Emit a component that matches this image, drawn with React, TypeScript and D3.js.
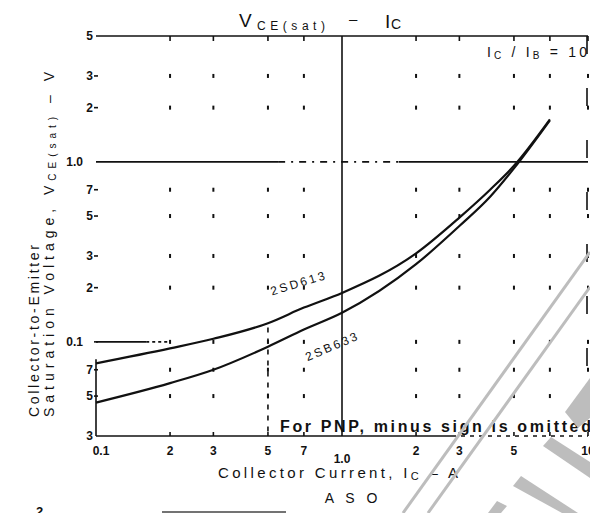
import React from 'react';
import * as d3 from 'd3';

// collector current, A
const currentA = [0.1, 0.2, 0.3, 0.5, 0.7, 1, 2, 3, 4, 5, 7];
// VCE(sat), V
const vce2SD613 = [0.076, 0.092, 0.104, 0.127, 0.155, 0.187, 0.31, 0.49, 0.7, 0.95, 1.72];
const vce2SB633 = [0.046, 0.059, 0.07, 0.094, 0.117, 0.145, 0.27, 0.44, 0.64, 0.92, 1.7];

const xTickValues = [0.1, 0.2, 0.3, 0.5, 0.7, 1, 2, 3, 5, 10];
const xTickLabels = ['0.1', '2', '3', '5', '7', '1.0', '2', '3', '5', '10'];
const yTickValues = [5, 3, 2, 1, 0.7, 0.5, 0.3, 0.2, 0.1, 0.07, 0.05, 0.03];
const yTickLabels = ['5', '3', '2', '1.0', '7', '5', '3', '2', '0.1', '7', '5', '3'];

const xMinor = [0.2, 0.3, 0.5, 0.7, 2, 3, 5, 7, 10];
const yMinor = [3, 2, 0.7, 0.5, 0.3, 0.2, 0.1, 0.07, 0.05];

const W = 590;
const H = 513;
const font = '"Liberation Sans", Arial, sans-serif';
const ink = '#111';
const wm = '#bdbdbd';

export default function App() {
  const x = d3.scaleLog().domain([0.1, 10]).range([96, 588]);
  const y = d3.scaleLog().domain([0.03, 5]).range([436, 36]);

  const line = d3.line<[number, number]>()
    .x(d => x(d[0]))
    .y(d => y(d[1]))
    .curve(d3.curveMonotoneX);

  const upper = line(currentA.map((c, i) => [c, vce2SD613[i]]));
  const lower = line(currentA.map((c, i) => [c, vce2SB633[i]]));

  const ax = { stroke: ink, strokeWidth: 1.6, fill: 'none' };

  return (
    <svg width={W} height={H} style={{ position: 'absolute', left: 0, top: 0, background: '#fff' }}
      fontFamily={font}>
      <rect width={W} height={H} fill="#fff" />

      {/* title */}
      <text x={239} y={27} fontSize={19} fill={ink}>V</text>
      <text x={257} y={30} fontSize={12} fill={ink} textLength={68} lengthAdjust="spacing">CE(sat)</text>
      <text x={349} y={24} fontSize={15} fill={ink}>–</text>
      <text x={385} y={28} fontSize={19} fill={ink}>I</text>
      <text x={391} y={29} fontSize={14} fill={ink}>C</text>

      {/* frame and major lines */}
      <line x1={x(0.1)} x2={x(10)} y1={y(5)} y2={y(5)} {...ax} />
      <line x1={x(0.1)} x2={x(2.8)} y1={y(0.03)} y2={y(0.03)} {...ax} />
      <line x1={x(2.8)} x2={x(10)} y1={y(0.03)} y2={y(0.03)} {...ax} strokeDasharray="4,5" />
      <line x1={x(0.1)} x2={x(0.1)} y1={y(0.08)} y2={y(0.03)} {...ax} />
      <line x1={x(0.1)} x2={x(0.55)} y1={y(1)} y2={y(1)} {...ax} />
      <line x1={x(0.55)} x2={x(1.7)} y1={y(1)} y2={y(1)} {...ax} strokeDasharray="7,6,2,6" />
      <line x1={x(1.7)} x2={x(10)} y1={y(1)} y2={y(1)} {...ax} />
      <line x1={x(0.1)} x2={x(0.16)} y1={y(0.1)} y2={y(0.1)} {...ax} />
      <line x1={x(0.16)} x2={x(0.2)} y1={y(0.1)} y2={y(0.1)} {...ax} strokeDasharray="3,3" />
      <line x1={x(1)} x2={x(1)} y1={y(5)} y2={y(0.03)} {...ax} />
      <line x1={x(0.5)} x2={x(0.5)} y1={y(0.12)} y2={y(0.03)} {...ax} strokeDasharray="5,6" />
      <line x1={x(10) - 1} x2={x(10) - 1} y1={y(5)} y2={y(0.03)} {...ax} strokeDasharray="18,34" />

      {/* tick marks */}
      {xMinor.map((v, i) => (
        <g key={'xt' + i}>
          <line x1={x(v)} x2={x(v)} y1={y(5)} y2={y(5) + 5} {...ax} />
          <line x1={x(v)} x2={x(v)} y1={y(0.03)} y2={y(0.03) - 4} {...ax} />
        </g>
      ))}
      {yMinor.map((v, i) => (
        <line key={'yt' + i} x1={x(0.1) - 2} x2={x(0.1) + 2} y1={y(v)} y2={y(v)} {...ax} />
      ))}

      {/* grid dots */}
      {xMinor.map(xv => yMinor.map(yv => (
        <rect key={xv + '-' + yv} x={x(xv) - 1} y={y(yv) - 2} width={2} height={4} fill={ink} />
      )))}

      {/* tick labels */}
      {xTickValues.map((v, i) => (
        <text key={'xl' + i} x={x(v) + (i === 0 ? 5 : 0)} y={i === 5 ? 463 : 455}
          textAnchor="middle" fontSize={12} fontWeight="bold" fill={ink}>{xTickLabels[i]}</text>
      ))}
      {yTickValues.map((v, i) => (
        <text key={'yl' + i} x={yTickLabels[i].length > 1 ? 83 : 93} y={y(v) + 4}
          textAnchor="end" fontSize={12} fontWeight="bold" fill={ink}>{yTickLabels[i]}</text>
      ))}

      {/* curves */}
      <path d={upper || ''} fill="none" stroke={ink} strokeWidth={2.2} />
      <path d={lower || ''} fill="none" stroke={ink} strokeWidth={2.2} />
      <text transform="translate(300,287) rotate(-17)" textAnchor="middle" fontSize={12} fill={ink}
        letterSpacing={2.5}>2SD613</text>
      <text transform="translate(334,350) rotate(-23)" textAnchor="middle" fontSize={12} fill={ink}
        letterSpacing={2.5}>2SB633</text>

      {/* annotations */}
      <text x={487} y={57} fontSize={14} fill={ink} textLength={100} lengthAdjust="spacing">
        I<tspan fontSize={10} dy={2}>C</tspan><tspan dy={-2}> / I</tspan><tspan fontSize={10} dy={2}>B</tspan><tspan dy={-2}> = 10</tspan>
      </text>
      <text x={280} y={432} fontSize={16} fontWeight="bold" fill={ink} textLength={318}
        lengthAdjust="spacing">For PNP, minus sign is omitted.</text>

      {/* axis titles */}
      <text x={218} y={478} fontSize={15} fill={ink} textLength={240} lengthAdjust="spacing">
        Collector Current, I<tspan fontSize={11} dy={2}>C</tspan><tspan dy={-2}> – A</tspan>
      </text>
      <text transform="translate(39,417) rotate(-90)" fontSize={14} fill={ink} textLength={172}
        lengthAdjust="spacing">Collector-to-Emitter</text>
      <text transform="translate(54,417) rotate(-90)" fontSize={14} fill={ink} textLength={345}
        lengthAdjust="spacing">
        Saturation Voltage, V<tspan fontSize={10} dy={2}>CE(sat)</tspan><tspan dy={-2}> – V</tspan>
      </text>

      {/* next chart fragment */}
      <text x={353} y={503} textAnchor="middle" fontSize={14} fill={ink} letterSpacing={4}>A S O</text>
      <text x={36} y={516} fontSize={13} fontWeight="bold" fill={ink}>2</text>
      <line x1={162} x2={286} y1={512} y2={512} stroke="#444" strokeWidth={1.5} />

      {/* scan watermark */}
      <line x1={403} y1={513} x2={590} y2={252} stroke={wm} strokeWidth={3} />
      <line x1={428} y1={513} x2={590} y2={287} stroke={wm} strokeWidth={3} />
      <polygon points="565,412 590,378 590,418 578,428" fill={wm} />
      <polygon points="543,446 551,437 590,462 590,478" fill={wm} />
      <polygon points="513,486 521,476 578,513 562,513" fill={wm} />
      <polygon points="488,513 497,501 507,506 501,513" fill={wm} />
    </svg>
  );
}
